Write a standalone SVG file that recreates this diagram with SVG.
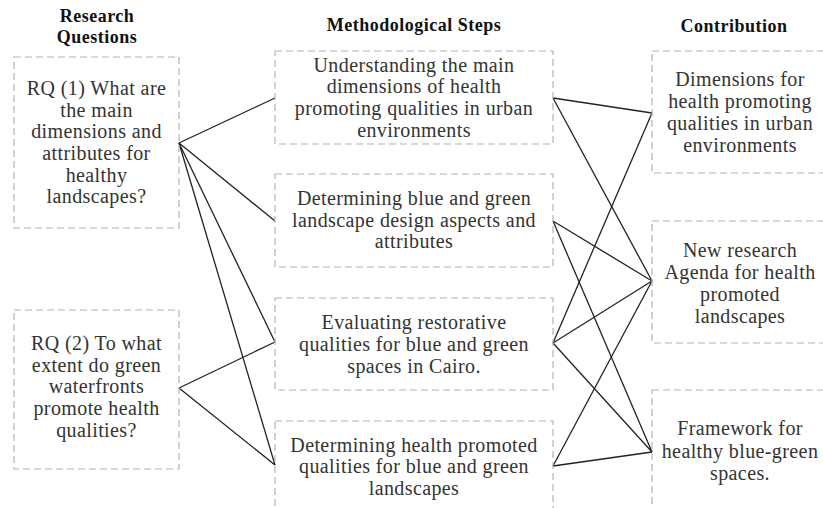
<svg xmlns="http://www.w3.org/2000/svg" width="823" height="508" viewBox="0 0 823 508">
<style>
.box{fill:none;stroke:#b3b3b3;stroke-width:1.2;stroke-dasharray:7 4}
.t{font-family:'Liberation Serif','Times New Roman',Times,'DejaVu Serif',serif;font-size:20px;letter-spacing:0.4px;fill:#333;text-anchor:middle}
.h{font-family:'Liberation Serif','Times New Roman',Times,'DejaVu Serif',serif;font-size:18px;letter-spacing:0.5px;font-weight:bold;fill:#111;text-anchor:middle}
.c line{stroke:#222;stroke-width:1.3}
</style>
<rect width="823" height="508" fill="#fff"/>
<g id="headers">
<text class="h" x="97" y="22">Research</text>
<text class="h" x="97" y="43">Questions</text>
<text class="h" x="414" y="31">Methodological Steps</text>
<text class="h" x="734" y="32">Contribution</text>
</g>
<g id="connectors" class="c">
<line x1="179" y1="143" x2="275" y2="98"/>
<line x1="179" y1="143" x2="275" y2="221"/>
<line x1="179" y1="143" x2="275" y2="342"/>
<line x1="179" y1="143" x2="275" y2="465"/>
<line x1="179" y1="388" x2="275" y2="342"/>
<line x1="179" y1="388" x2="275" y2="465"/>
<line x1="553" y1="98" x2="652" y2="113"/>
<line x1="553" y1="98" x2="652" y2="281"/>
<line x1="553" y1="221" x2="652" y2="281"/>
<line x1="553" y1="221" x2="652" y2="452"/>
<line x1="553" y1="343" x2="652" y2="113"/>
<line x1="553" y1="343" x2="652" y2="281"/>
<line x1="553" y1="343" x2="652" y2="452"/>
<line x1="553" y1="466" x2="652" y2="281"/>
<line x1="553" y1="466" x2="652" y2="452"/>
</g>
<g id="rq1">
<rect class="box" x="14" y="57" width="165" height="171"/>
<text class="t" x="96.5" y="95">RQ (1) What are</text>
<text class="t" x="96.5" y="117">the main</text>
<text class="t" x="96.5" y="138">dimensions and</text>
<text class="t" x="96.5" y="160">attributes for</text>
<text class="t" x="96.5" y="182">healthy</text>
<text class="t" x="96.5" y="203">landscapes?</text>
</g>
<g id="rq2">
<rect class="box" x="14" y="310" width="165" height="159"/>
<text class="t" x="96.5" y="350">RQ (2) To what</text>
<text class="t" x="96.5" y="372">extent do green</text>
<text class="t" x="96.5" y="393">waterfronts</text>
<text class="t" x="96.5" y="415">promote health</text>
<text class="t" x="96.5" y="437">qualities?</text>
</g>
<g id="step1">
<rect class="box" x="275" y="51" width="278" height="93"/>
<text class="t" x="414" y="72">Understanding the main</text>
<text class="t" x="414" y="93">dimensions of health</text>
<text class="t" x="414" y="115">promoting qualities in urban</text>
<text class="t" x="414" y="137">environments</text>
</g>
<g id="step2">
<rect class="box" x="275" y="174" width="278" height="93"/>
<text class="t" x="414" y="205">Determining blue and green</text>
<text class="t" x="414" y="227">landscape design aspects and</text>
<text class="t" x="414" y="248">attributes</text>
</g>
<g id="step3">
<rect class="box" x="275" y="298" width="278" height="92"/>
<text class="t" x="414" y="329">Evaluating restorative</text>
<text class="t" x="414" y="351">qualities for blue and green</text>
<text class="t" x="414" y="373">spaces in Cairo.</text>
</g>
<g id="step4">
<rect class="box" x="275" y="421" width="278" height="100"/>
<text class="t" x="414" y="452">Determining health promoted</text>
<text class="t" x="414" y="473">qualities for blue and green</text>
<text class="t" x="414" y="495">landscapes</text>
</g>
<g id="contrib1">
<rect class="box" x="652" y="51" width="180" height="122"/>
<text class="t" x="740" y="86">Dimensions for</text>
<text class="t" x="740" y="108">health promoting</text>
<text class="t" x="740" y="130">qualities in urban</text>
<text class="t" x="740" y="152">environments</text>
</g>
<g id="contrib2">
<rect class="box" x="652" y="221" width="180" height="122"/>
<text class="t" x="740" y="257">New research</text>
<text class="t" x="740" y="279">Agenda for health</text>
<text class="t" x="740" y="301">promoted</text>
<text class="t" x="740" y="323">landscapes</text>
</g>
<g id="contrib3">
<rect class="box" x="652" y="390" width="180" height="130"/>
<text class="t" x="740" y="435">Framework for</text>
<text class="t" x="740" y="458">healthy blue-green</text>
<text class="t" x="740" y="480">spaces.</text>
</g>
</svg>
